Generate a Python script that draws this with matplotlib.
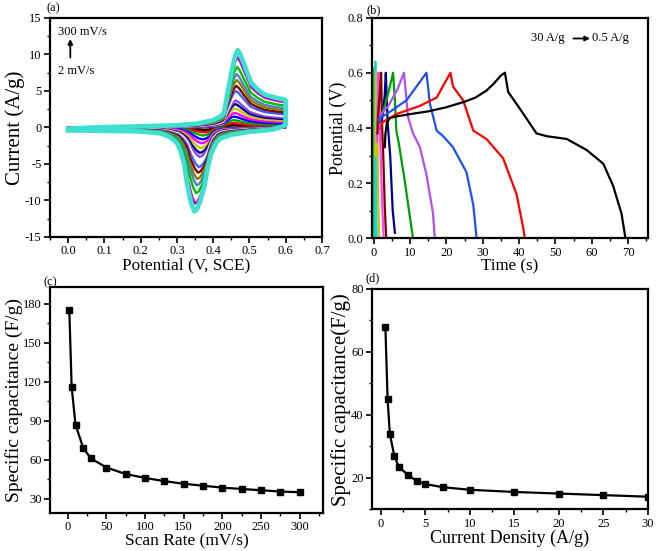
"""
CV / GCD / capacitance four-panel figure
"""

import numpy as np
import matplotlib
matplotlib.use("Agg")
import matplotlib.pyplot as plt
from matplotlib.ticker import MultipleLocator

# ---- (a) CV: outermost curve (300 mV/s) ----
cv_anodic_E = [0.00, 0.05, 0.10, 0.20, 0.30, 0.36, 0.40, 0.42, 0.43, 0.44, 0.454, 0.462, 0.468,
               0.475, 0.487, 0.505, 0.525, 0.542, 0.57, 0.598, 0.60]
cv_anodic_I = [-0.2, -0.05, 0.05, 0.15, 0.3, 0.55, 1.0, 1.5, 2.0, 4.8, 8.4, 10.0, 10.6,
               10.0, 8.4, 6.1, 5.1, 4.5, 4.1, 3.8, 3.6]
cv_cathodic_E = [0.60, 0.59, 0.56, 0.50, 0.45, 0.42, 0.41, 0.395, 0.385, 0.376, 0.365, 0.355, 0.348,
                 0.34, 0.329, 0.32, 0.31, 0.30, 0.28, 0.255, 0.20, 0.10, 0.00]
cv_cathodic_I = [0.4, 0.1, -0.3, -0.6, -1.0, -1.5, -2.0, -3.5, -5.5, -8.0, -10.0, -11.2, -11.5,
                 -10.5, -8.0, -5.0, -3.2, -2.1, -1.3, -0.8, -0.55, -0.45, -0.4]

scan_rates = [2, 5, 10, 20, 30, 50, 75, 100, 125, 150, 175, 200, 225, 250, 275, 300]
anodic_peaks = [0.35, 0.6, 1.0, 1.5, 2.0, 2.6, 3.2, 3.7, 4.3, 5.0, 5.7, 6.5, 7.3, 8.3, 9.6, 10.6]
anodic_peak_E = [0.455, 0.456, 0.457, 0.458, 0.459, 0.460, 0.461, 0.462, 0.463, 0.463, 0.464, 0.465, 0.465, 0.466, 0.467, 0.468]
cathodic_peak_E = [0.375, 0.373, 0.371, 0.369, 0.367, 0.365, 0.363, 0.362, 0.361, 0.360, 0.358, 0.356, 0.355, 0.353, 0.350, 0.348]
cv_colors = ['black', 'red', '#00A000', 'blue', '#FF00FF', '#C8C800', '#000080', '#9040F0',
             'white', '#4060FF', '#800000', '#808000', '#5080C0', '#00C000', '#C000C0', '#40E0D0']

# ---- (b) GCD curves ----
gcd_t = [
    [0.0, 0.1, 0.2, 0.25, 0.3],
    [0.2, 0.3, 0.4, 0.5, 0.6, 0.8],
    [0.4, 0.6, 0.8, 1.0, 1.2, 1.5],
    [0.8, 1.0, 1.3, 1.6, 1.9, 2.3, 2.7],
    [1.0, 1.2, 1.6, 2.0, 2.3, 2.6, 3.0, 3.4],
    [2.2, 2.5, 3.0, 3.3, 3.8, 4.5, 5.2, 5.8],
    [1.5, 2.0, 3.5, 5.3, 5.8, 6.2, 6.8, 8.5, 9.9, 10.8, 11.1],
    [1.5, 2.0, 4.0, 6.5, 8.3, 8.8, 9.4, 10.8, 12.7, 14.5, 16.3, 16.8],
    [1.6, 2.0, 3.5, 9.0, 14.5, 15.0, 15.4, 17.3, 19.1, 21.8, 25.5, 27.4, 28.3],
    [2.0, 2.3, 6.2, 12.7, 17.3, 21.1, 21.8, 24.6, 27.4, 31.0, 35.6, 39.3, 41.1, 41.6],
    [3.0, 3.2, 3.6, 4.4, 5.5, 10.0, 15.0, 20.0, 25.0, 28.0, 31.0, 33.0, 35.0, 36.1,
     37.0, 40.2, 44.8, 47.6, 53.1, 58.6, 63.2, 65.9, 68.2, 69.3],
]
gcd_v = [
    [0.0, 0.3, 0.6, 0.62, 0.0],
    [0.0, 0.5, 0.64, 0.40, 0.20, 0.0],
    [0.30, 0.55, 0.60, 0.40, 0.15, 0.0],
    [0.35, 0.45, 0.60, 0.42, 0.30, 0.12, 0.0],
    [0.38, 0.45, 0.52, 0.60, 0.40, 0.30, 0.12, 0.0],
    [0.43, 0.45, 0.52, 0.60, 0.42, 0.30, 0.10, 0.02],
    [0.42, 0.44, 0.50, 0.60, 0.50, 0.39, 0.35, 0.21, 0.08, 0.0, 0.0],
    [0.43, 0.45, 0.48, 0.54, 0.60, 0.53, 0.44, 0.38, 0.33, 0.23, 0.09, 0.0],
    [0.42, 0.44, 0.45, 0.50, 0.60, 0.54, 0.49, 0.39, 0.37, 0.33, 0.24, 0.12, 0.0],
    [0.40, 0.42, 0.45, 0.48, 0.51, 0.60, 0.55, 0.50, 0.39, 0.36, 0.29, 0.16, 0.04, 0.0],
    [0.33, 0.38, 0.42, 0.435, 0.44, 0.45, 0.46, 0.475, 0.495, 0.51, 0.535, 0.56, 0.59, 0.60,
     0.53, 0.47, 0.38, 0.37, 0.36, 0.32, 0.27, 0.19, 0.09, 0.0],
]
gcd_colors = ['#00C000', '#20D0D0', '#C8C800', '#FF40FF', '#800000', '#000090',
              '#00A000', '#B050F0', '#2050F0', 'red', 'black']

# ---- (c) capacitance vs scan rate ----
rate_mv = [2, 5, 10, 20, 30, 50, 75, 100, 125, 150, 175, 200, 225, 250, 275, 300]
cap_rate = [175, 116, 87, 69, 61, 54, 49, 46, 43.5, 41.5, 40, 38.5, 37.5, 36.5, 35.5, 35]

# ---- (d) capacitance vs current density ----
current_density = [0.5, 0.75, 1, 1.5, 2, 3, 4, 5, 7, 10, 15, 20, 25, 30]
cap_current = [68, 45, 34, 27, 23.5, 21, 19, 18, 17, 16.2, 15.5, 15, 14.5, 14]


def style_axes(ax, xmaj, xmin, ymaj, ymin):
    for sp in ax.spines.values():
        sp.set_linewidth(1.6)
    ax.xaxis.set_major_locator(MultipleLocator(xmaj))
    ax.xaxis.set_minor_locator(MultipleLocator(xmin))
    ax.yaxis.set_major_locator(MultipleLocator(ymaj))
    ax.yaxis.set_minor_locator(MultipleLocator(ymin))
    ax.tick_params(which='major', direction='out', length=4, width=1.2, labelsize=9, pad=2)
    ax.tick_params(which='minor', direction='out', length=2.5, width=1.0)


def main():
    plt.rcParams['font.family'] = ['Liberation Serif', 'DejaVu Serif']
    plt.rcParams['axes.unicode_minus'] = False

    fig = plt.figure(figsize=(6.56, 5.51), dpi=100)
    ax_a = fig.add_axes([0.0762, 0.5699, 0.4146, 0.3975])
    ax_b = fig.add_axes([0.5671, 0.5675, 0.4207, 0.4007])
    ax_c = fig.add_axes([0.0762, 0.0690, 0.4162, 0.4100])
    ax_d = fig.add_axes([0.5671, 0.0757, 0.4207, 0.3998])

    # (a) CV curves, outermost drawn last
    aE = np.array(cv_anodic_E)
    cE = np.array(cv_cathodic_E)
    for k in range(len(scan_rates)):
        s = anodic_peaks[k] / 10.6
        wa = np.exp(-((aE - 0.465) / 0.05) ** 2)
        wc = np.exp(-((cE - 0.35) / 0.05) ** 2)
        ea = aE + (anodic_peak_E[k] - 0.468) * wa
        ec = cE + (cathodic_peak_E[k] - 0.348) * wc
        E = np.concatenate([ea, ec])
        I = np.concatenate([np.array(cv_anodic_I), np.array(cv_cathodic_I)]) * s
        lw = 3.4 if k == len(scan_rates) - 1 else 1.7
        ax_a.plot(E, I, color=cv_colors[k], lw=lw, zorder=2 + k)
    ax_a.set_xlim(-0.05, 0.7)
    ax_a.set_ylim(-15, 15)
    style_axes(ax_a, 0.1, 0.05, 5, 2.5)
    ax_a.set_xlabel('Potential (V, SCE)', fontsize=12.4, labelpad=0)
    ax_a.set_ylabel('Current (A/g)', fontsize=15, labelpad=0)
    ax_a.text(-0.028, 13.1, '300 mV/s', fontsize=9, va='center')
    ax_a.text(-0.028, 7.8, '2 mV/s', fontsize=9, va='center')
    ax_a.annotate('', xy=(0.006, 12.5), xytext=(0.006, 9.2),
                  arrowprops=dict(arrowstyle='-|>', color='black', lw=1.3, mutation_scale=7))
    fig.text(0.071, 0.995, '(a)', fontsize=9, va='top')

    # (b) GCD curves
    ax_b.plot([0, 75.5], [0.002, 0.002], color='#FF80FF', lw=1.0, zorder=1)
    for t, v, c in zip(gcd_t, gcd_v, gcd_colors):
        ax_b.plot(t, v, color=c, lw=1.6)
    ax_b.set_xlim(-0.5, 75.5)
    ax_b.set_ylim(0, 0.8)
    style_axes(ax_b, 10, 5, 0.2, 0.1)
    ax_b.set_xlabel('Time (s)', fontsize=12.2, labelpad=0)
    ax_b.set_ylabel('Potential (V)', fontsize=13, labelpad=1)
    ax_b.text(43.2, 0.724, '30 A/g', fontsize=9, va='center')
    ax_b.annotate('', xy=(60.3, 0.724), xytext=(54.2, 0.724),
                  arrowprops=dict(arrowstyle='-|>', color='black', lw=1.3, mutation_scale=7))
    ax_b.text(60.2, 0.724, '0.5 A/g', fontsize=9, va='center')
    fig.text(0.558, 0.993, '(b)', fontsize=9, va='top')

    # (c) capacitance vs scan rate
    ax_c.plot(rate_mv, cap_rate, color='black', lw=1.6, marker='s', markersize=4)
    ax_c.set_xlim(-23, 330)
    ax_c.set_ylim(19, 193)
    style_axes(ax_c, 50, 25, 30, 15)
    ax_c.set_xlabel('Scan Rate (mV/s)', fontsize=12.5, labelpad=0)
    ax_c.set_ylabel('Specific capacitance (F/g)', fontsize=14, labelpad=0)
    fig.text(0.066, 0.499, '(c)', fontsize=9, va='top')

    # (d) capacitance vs current density
    ax_d.plot(current_density, cap_current, color='black', lw=1.6, marker='s', markersize=4)
    ax_d.set_xlim(-1, 30)
    ax_d.set_ylim(10, 80)
    style_axes(ax_d, 5, 2.5, 20, 10)
    ax_d.set_xlabel('Current Density (A/g)', fontsize=13, labelpad=0)
    ax_d.set_ylabel('Specific capacitance(F/g)', fontsize=15, labelpad=0)
    fig.text(0.557, 0.505, '(d)', fontsize=9, va='top')

    fig.savefig('out.png', dpi=100)
    plt.close(fig)
    print("saved out.png")


if __name__ == "__main__":
    main()
